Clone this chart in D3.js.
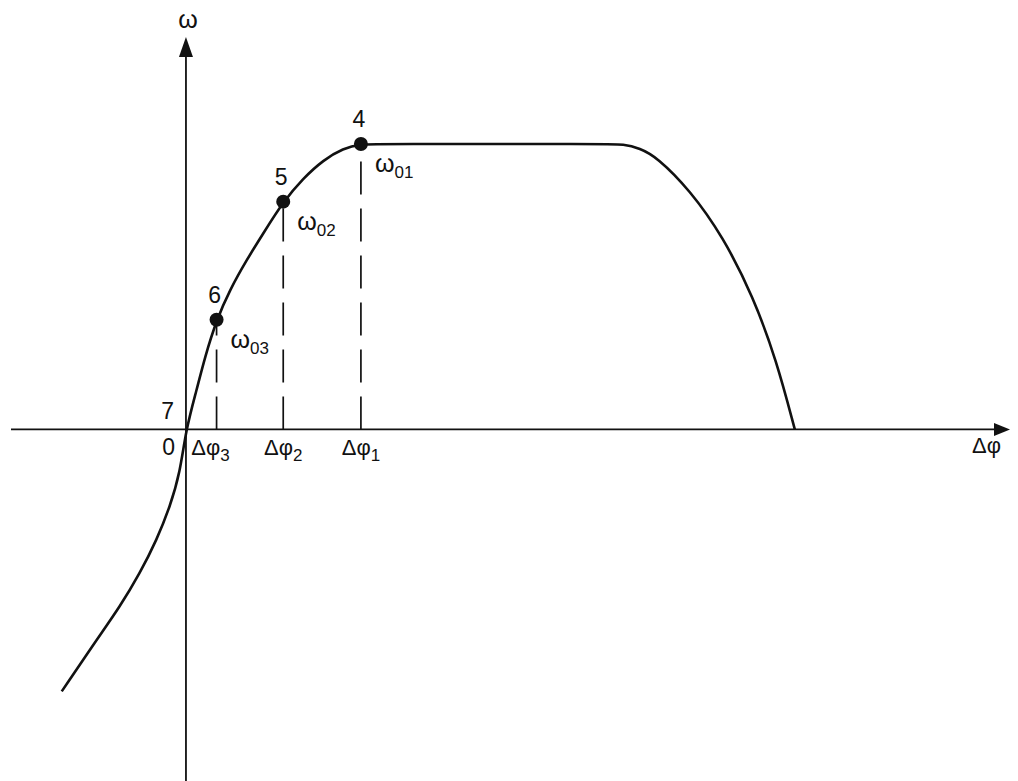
<!DOCTYPE html>
<html>
<head>
<meta charset="utf-8">
<script src="https://cdn.jsdelivr.net/npm/d3@7"></script>
<style>
  html, body { margin: 0; padding: 0; background: #fff; }
  svg { display: block; }
  text { font-family: "Liberation Sans", Arial, sans-serif; fill: #111; }
</style>
</head>
<body>
<script>
// Characteristic ω(Δφ): rising branch through the origin, flat top, falling branch
const curveDphi  = [-0.710, -0.510, -0.377, -0.263, -0.167, -0.091, -0.034, 0,
                    0.061, 0.109, 0.175, 0.251, 0.347, 0.442, 0.556, 0.670, 0.785, 0.899, 1.0,
                    1.1, 2.4, 2.5,
                    2.594, 2.690, 2.880, 3.070, 3.242, 3.375, 3.480];
const curveOmega = [-0.918, -0.737, -0.621, -0.504, -0.387, -0.270, -0.153, 0,
                    0.138, 0.255, 0.384, 0.489, 0.594, 0.687, 0.798, 0.880, 0.944, 0.985, 1.0,
                    1.0, 1.0, 1.0,
                    0.985, 0.955, 0.839, 0.675, 0.465, 0.243, 0];

// Marked operating points
const pointNames  = ["4", "5", "6"];
const pointDphi   = [1.0, 0.556, 0.175];
const pointOmega  = [1.0, 0.798, 0.384];
const omegaSubs   = ["01", "02", "03"];
const dphiSubs    = ["1", "2", "3"];

// Axis extents (data units)
const xDomain = [-1.0, 4.71];
const yDomain = [-1.232, 1.375];

const W = 1018, H = 781;
const svg = d3.select("body").append("svg").attr("width", W).attr("height", H);

const x = d3.scaleLinear().domain(xDomain).range([11, 1010]);
const y = d3.scaleLinear().domain(yDomain).range([781, 37]);

const x0 = x(0), y0 = y(0);

// axes
svg.append("line")
  .attr("x1", x(xDomain[0])).attr("x2", x(xDomain[1]) - 8)
  .attr("y1", y0).attr("y2", y0)
  .attr("stroke", "#111").attr("stroke-width", 1.8);
svg.append("line")
  .attr("x1", x0).attr("x2", x0)
  .attr("y1", y(yDomain[0])).attr("y2", y(yDomain[1]) + 8)
  .attr("stroke", "#111").attr("stroke-width", 1.8);

// arrowheads
const xt = x(xDomain[1]);
svg.append("path")
  .attr("d", `M${xt},${y0} L${xt - 16},${y0 - 6.5} L${xt - 16},${y0 + 6.5} Z`)
  .attr("fill", "#111");
const yt = y(yDomain[1]);
svg.append("path")
  .attr("d", `M${x0},${yt} L${x0 - 7},${yt + 20} L${x0 + 7},${yt + 20} Z`)
  .attr("fill", "#111");

// dashed drop lines from each point to the Δφ axis
pointDphi.forEach((d, i) => {
  svg.append("line")
    .attr("x1", x(d)).attr("x2", x(d))
    .attr("y1", y0).attr("y2", y(pointOmega[i]))
    .attr("stroke", "#111").attr("stroke-width", 1.7)
    .attr("stroke-dasharray", "33,14");
});

// characteristic curve (B-spline through the sampled outline)
const line = d3.line()
  .x((d, i) => x(curveDphi[i]))
  .y((d, i) => y(curveOmega[i]))
  .curve(d3.curveBasis);
svg.append("path")
  .datum(curveDphi)
  .attr("d", line)
  .attr("fill", "none")
  .attr("stroke", "#111")
  .attr("stroke-width", 2.6)
  .attr("stroke-linejoin", "round");

// points
svg.selectAll("circle.pt")
  .data(pointDphi)
  .join("circle")
  .attr("class", "pt")
  .attr("cx", d => x(d))
  .attr("cy", (d, i) => y(pointOmega[i]))
  .attr("r", 7)
  .attr("fill", "#111");

// point numbers
svg.selectAll("text.num")
  .data(pointNames)
  .join("text")
  .attr("class", "num")
  .attr("x", (d, i) => x(pointDphi[i]) - 2)
  .attr("y", (d, i) => y(pointOmega[i]) - 17)
  .attr("text-anchor", "middle")
  .attr("font-size", 23)
  .text(d => d);

// ω0n labels
omegaSubs.forEach((s, i) => {
  const t = svg.append("text")
    .attr("x", x(pointDphi[i]) + 14)
    .attr("y", y(pointOmega[i]) + 28)
    .attr("font-size", 25);
  t.append("tspan").text("ω");
  t.append("tspan").attr("font-size", 17).attr("dy", 6).text(s);
});

// Δφn labels under the axis
const dphiShift = [0, 0, -6];
dphiSubs.forEach((s, i) => {
  const t = svg.append("text")
    .attr("x", x(pointDphi[i]) + dphiShift[i])
    .attr("y", y0 + 26)
    .attr("text-anchor", "middle")
    .attr("font-size", 22);
  t.append("tspan").text("Δφ");
  t.append("tspan").attr("font-size", 17).attr("dy", 6).text(s);
});

// origin labels
svg.append("text")
  .attr("x", x0 - 11).attr("y", y0 + 26)
  .attr("text-anchor", "end").attr("font-size", 23).text("0");
svg.append("text")
  .attr("x", x0 - 12).attr("y", y0 - 10)
  .attr("text-anchor", "end").attr("font-size", 23).text("7");

// axis titles
svg.append("text")
  .attr("x", xt - 38).attr("y", y0 + 24)
  .attr("font-size", 22).text("Δφ");
svg.append("text")
  .attr("x", x0 + 2).attr("y", 28)
  .attr("text-anchor", "middle").attr("font-size", 25).text("ω");
</script>
</body>
</html>
